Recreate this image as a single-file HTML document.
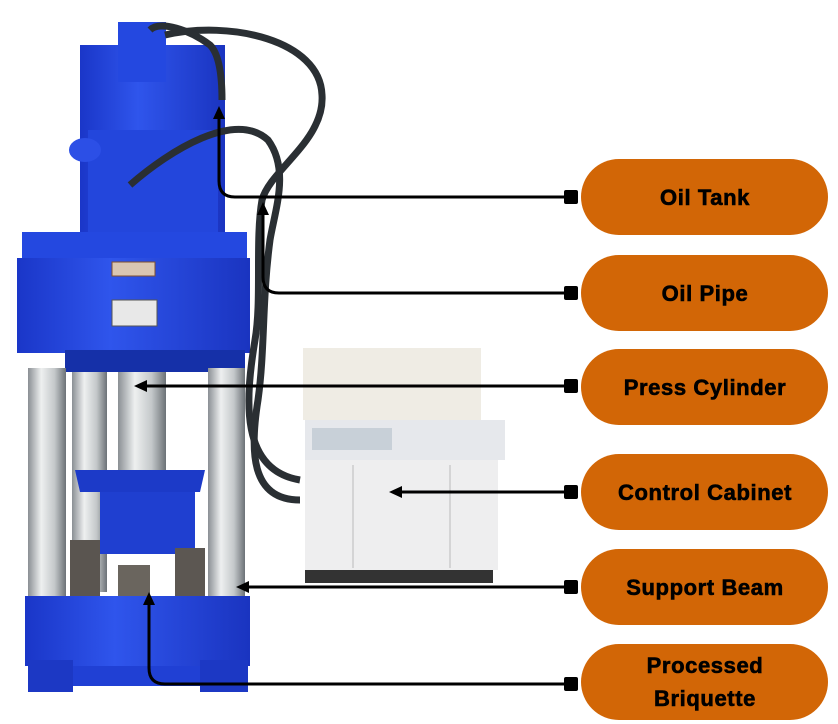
<!DOCTYPE html>
<html><head><meta charset="utf-8"><style>
html,body{margin:0;padding:0;background:#fff;width:838px;height:724px;overflow:hidden}
svg{display:block}
.pt{font-family:"Liberation Sans",sans-serif;font-weight:bold;font-size:22px;fill:#000;text-anchor:middle;stroke:#000;stroke-width:0.6px;letter-spacing:0.6px}
</style></head><body>
<svg width="838" height="724" viewBox="0 0 838 724" xmlns="http://www.w3.org/2000/svg">
<defs>
<linearGradient id="st" x1="0" x2="1"><stop offset="0" stop-color="#8a8f94"/><stop offset="0.35" stop-color="#eef0f0"/><stop offset="0.7" stop-color="#c4c8ca"/><stop offset="1" stop-color="#6c7277"/></linearGradient>
<linearGradient id="bl" x1="0" x2="1"><stop offset="0" stop-color="#1a36c8"/><stop offset="0.4" stop-color="#2f55ec"/><stop offset="1" stop-color="#1a34c0"/></linearGradient>
<marker id="ah" markerWidth="14" markerHeight="14" refX="3" refY="7" orient="auto" markerUnits="userSpaceOnUse"><path d="M0,1 L13,7 L0,13 z"/></marker>
</defs>
<!-- tower -->
<rect x="80" y="45" width="145" height="195" fill="url(#bl)"/>
<rect x="118" y="22" width="48" height="60" fill="#2448e0"/>
<rect x="88" y="130" width="130" height="110" fill="#2346dc"/>
<ellipse cx="85" cy="150" rx="16" ry="12" fill="#2c4fe6"/>
<!-- crosshead -->
<rect x="22" y="232" width="225" height="30" fill="#2448e0"/>
<rect x="17" y="258" width="233" height="95" fill="url(#bl)"/>
<rect x="112" y="262" width="43" height="14" fill="#d9c6b2" stroke="#805030"/>
<rect x="112" y="300" width="45" height="26" fill="#e8e8e8" stroke="#555"/>
<rect x="65" y="350" width="180" height="22" fill="#1530a8"/>
<!-- columns -->
<rect x="72" y="372" width="35" height="220" fill="url(#st)"/>
<rect x="118" y="372" width="48" height="100" fill="url(#st)"/>
<rect x="28" y="368" width="38" height="235" fill="url(#st)"/>
<rect x="208" y="368" width="37" height="235" fill="url(#st)"/>
<!-- platen -->
<path d="M75,470 L205,470 L200,492 L80,492 z" fill="#1c3ac8"/>
<rect x="100" y="492" width="95" height="62" fill="#1f3fd0"/>
<rect x="70" y="540" width="30" height="62" fill="#5a5550"/>
<rect x="118" y="565" width="32" height="35" fill="#6a655e"/>
<rect x="175" y="548" width="30" height="54" fill="#5c5752"/>
<!-- base -->
<rect x="25" y="596" width="225" height="70" fill="url(#bl)"/>
<rect x="28" y="660" width="45" height="32" fill="#1c38c4"/>
<rect x="200" y="660" width="48" height="32" fill="#1c38c4"/>
<rect x="73" y="666" width="127" height="20" fill="#2040d4"/>
<!-- hoses -->
<g fill="none" stroke="#2a2f33" stroke-width="7">
<path d="M165,35 C230,20 320,40 322,95 C325,140 270,170 262,200 C255,240 262,300 255,340 C245,400 240,470 300,480"/>
<path d="M130,185 C170,150 235,110 268,140 C290,170 275,210 270,240 C262,300 265,350 258,400 C250,450 250,500 300,500"/>
<path d="M150,30 C160,20 190,30 210,45 C220,55 222,80 222,100"/>
</g>
<!-- cabinet -->
<rect x="303" y="348" width="178" height="72" fill="#efece4"/>
<rect x="305" y="420" width="200" height="40" fill="#e6e8ec"/>
<rect x="312" y="428" width="80" height="22" fill="#c8d0d8"/>
<rect x="305" y="460" width="193" height="110" fill="#eeeeef"/>
<line x1="353" y1="465" x2="353" y2="568" stroke="#bbb"/>
<line x1="450" y1="465" x2="450" y2="568" stroke="#bbb"/>
<rect x="305" y="570" width="188" height="13" fill="#333"/>
<!-- connectors -->
<g fill="none" stroke="#000" stroke-width="3">
<path d="M572,197 H235 Q219,197 219,181 V116" marker-end="url(#ah)"/>
<path d="M572,293 H279 Q263,293 263,277 V212" marker-end="url(#ah)"/>
<path d="M572,386 H144" marker-end="url(#ah)"/>
<path d="M572,492 H399" marker-end="url(#ah)"/>
<path d="M572,587 H246" marker-end="url(#ah)"/>
<path d="M572,684 H165 Q149,684 149,668 V602" marker-end="url(#ah)"/>
</g>
<g fill="#000">
<rect x="564" y="190" width="14" height="14" rx="2"/>
<rect x="564" y="286" width="14" height="14" rx="2"/>
<rect x="564" y="379" width="14" height="14" rx="2"/>
<rect x="564" y="485" width="14" height="14" rx="2"/>
<rect x="564" y="580" width="14" height="14" rx="2"/>
<rect x="564" y="677" width="14" height="14" rx="2"/>
</g>
<g fill="#d26606">
<rect x="581" y="159" width="247" height="76" rx="38"/>
<rect x="581" y="255" width="247" height="76" rx="38"/>
<rect x="581" y="349" width="247" height="76" rx="38"/>
<rect x="581" y="454" width="247" height="76" rx="38"/>
<rect x="581" y="549" width="247" height="76" rx="38"/>
<rect x="581" y="644" width="247" height="76" rx="38"/>
</g>
<text class="pt" x="705" y="205">Oil Tank</text>
<text class="pt" x="705" y="301">Oil Pipe</text>
<text class="pt" x="705" y="395">Press Cylinder</text>
<text class="pt" x="705" y="500">Control Cabinet</text>
<text class="pt" x="705" y="595">Support Beam</text>
<text class="pt" x="705" y="673">Processed</text>
<text class="pt" x="705" y="706">Briquette</text>
</svg>
</body></html>
